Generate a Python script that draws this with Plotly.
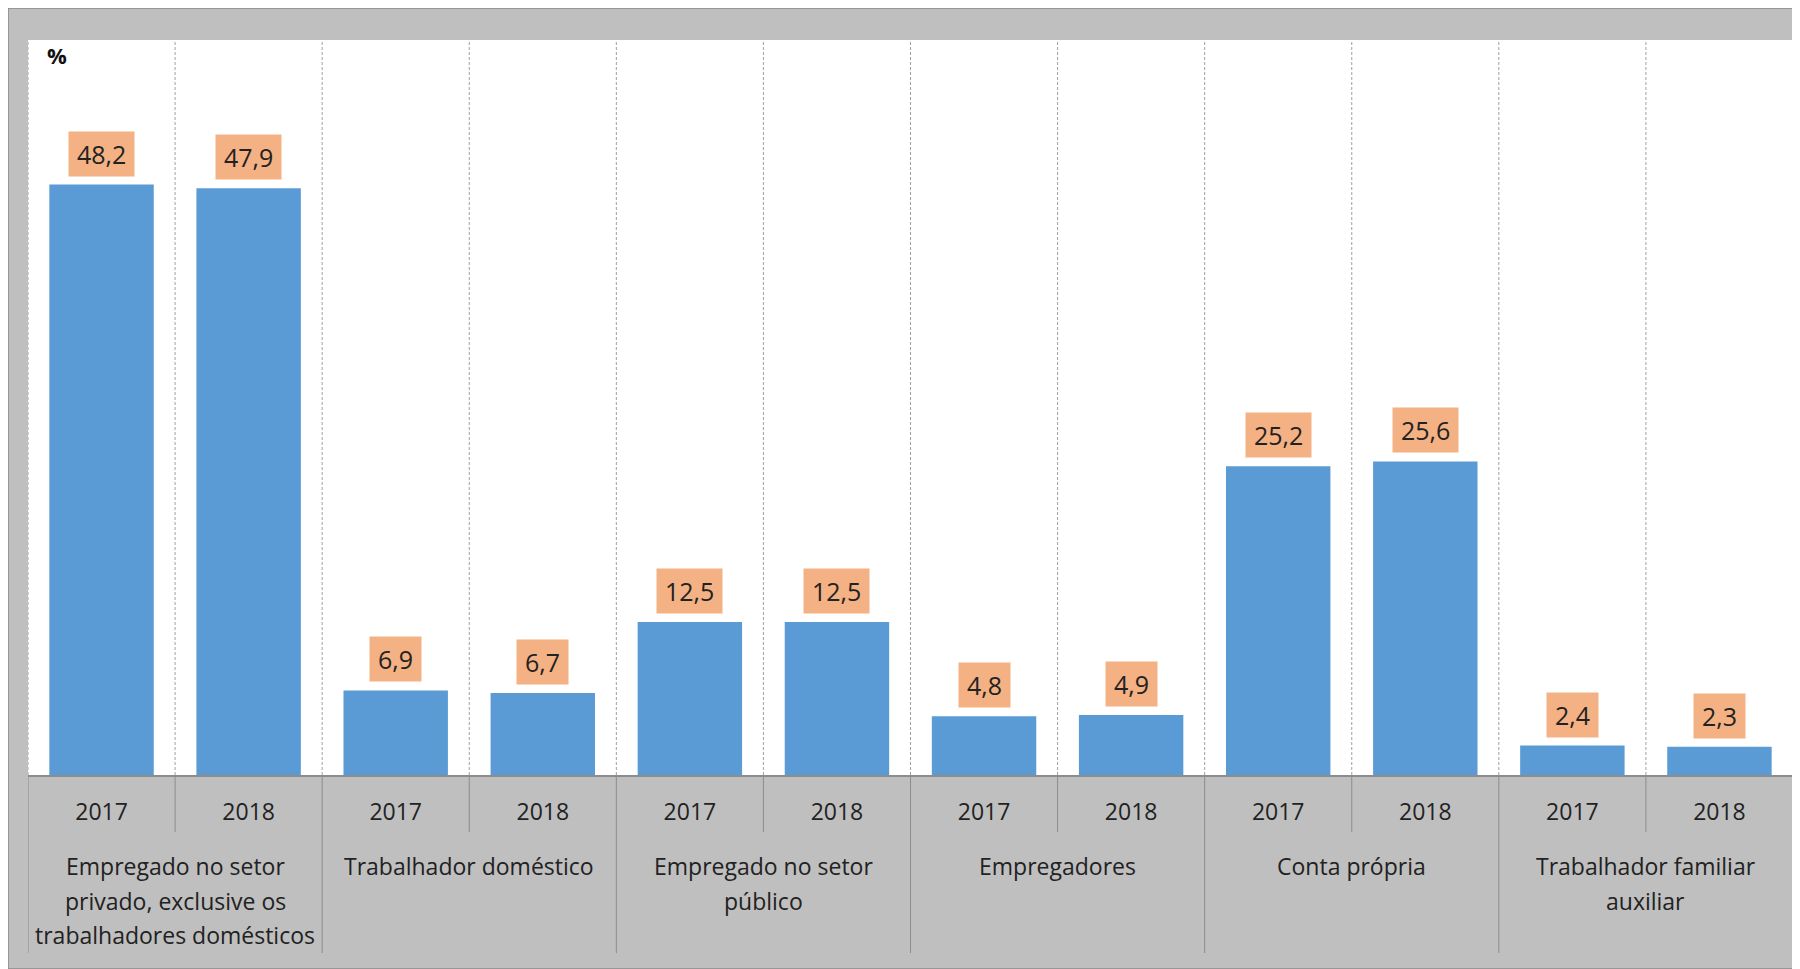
import plotly.graph_objects as go

# dados
grupos = [
    ["Empregado no setor", "privado, exclusive os", "trabalhadores domésticos"],
    ["Trabalhador doméstico"],
    ["Empregado no setor", "público"],
    ["Empregadores"],
    ["Conta própria"],
    ["Trabalhador familiar", "auxiliar"],
]
anos = ["2017", "2018"]
valores = [48.2, 47.9, 6.9, 6.7, 12.5, 12.5, 4.8, 4.9, 25.2, 25.6, 2.4, 2.3]
rotulos = ["48,2", "47,9", "6,9", "6,7", "12,5", "12,5", "4,8", "4,9", "25,2", "25,6", "2,4", "2,3"]

W, H = 1792, 961
ML, MR, MT, MB = 20, 7, 32, 194
FONT = "Open Sans, Noto Sans, sans-serif"
TXT = "#222222"

n = len(valores)
xs = list(range(n))
ticktext = [anos[i % 2] for i in xs]

fig = go.Figure()
fig.add_trace(go.Bar(
    x=xs, y=valores,
    marker=dict(color="#5b9bd5", line=dict(width=0)),
    width=0.71,
    hoverinfo="skip",
))

# rótulos com caixa laranja
for x, v, t in zip(xs, valores, rotulos):
    fig.add_annotation(
        x=x, y=v, text=t, showarrow=False,
        yanchor="bottom", yshift=8,
        bgcolor="#f4b183", borderpad=8, height=28, valign="middle",
        font=dict(family=FONT, size=25, color=TXT),
    )

# nomes dos grupos (uma anotação por linha)
for g, linhas in enumerate(grupos):
    for j, linha in enumerate(linhas):
        fig.add_annotation(
            x=2 * g + 0.5, y=0, yref="paper", text=linha, showarrow=False,
            yanchor="middle", yshift=-91 - 34.5 * j,
            font=dict(family=FONT, size=23, color=TXT),
        )

# linhas tracejadas na área do gráfico
for k in range(n + 1):
    fig.add_shape(
        type="line", xref="x", yref="paper",
        x0=k - 0.5, x1=k - 0.5, y0=0, y1=1,
        line=dict(color="#a0a0a0", width=1, dash="3px,2px"), layer="below",
    )
    # divisórias abaixo do eixo
    comprimento = 178 if k % 2 == 0 else 57
    fig.add_shape(
        type="line", xref="x", yref="paper", ysizemode="pixel", yanchor=0,
        x0=k - 0.5, x1=k - 0.5, y0=0, y1=-comprimento,
        line=dict(color="#8c8c8c", width=1),
    )

# borda do quadro
pw = W - ML - MR
ph = H - MT - MB
fig.add_shape(
    type="rect", xref="paper", yref="paper",
    x0=-ML / pw, x1=1 + MR / pw, y0=-MB / ph, y1=1 + MT / ph,
    line=dict(color="#8a8a8a", width=1.5), layer="below",
)

fig.add_annotation(
    x=0, y=1, xref="paper", yref="paper", text="<b>%</b>", showarrow=False,
    xanchor="left", yanchor="top", xshift=17, yshift=2,
    font=dict(family=FONT, size=22, color="#111111"),
)

fig.update_xaxes(
    tickvals=xs, ticktext=ticktext, range=[-0.5, n - 0.5],
    showline=True, linecolor="#8c8c8c", linewidth=1.5,
    ticks="", ticklabelstandoff=16, showgrid=False, zeroline=False,
    tickfont=dict(family=FONT, size=23, color=TXT),
)
fig.update_yaxes(range=[0, 60], visible=False, showgrid=False)

fig.update_layout(
    width=W, height=H,
    margin=dict(l=ML, r=MR, t=MT, b=MB),
    paper_bgcolor="#bfbfbf",
    plot_bgcolor="#ffffff",
    showlegend=False,
    bargap=0.29,
)

fig.write_html("out.html")
